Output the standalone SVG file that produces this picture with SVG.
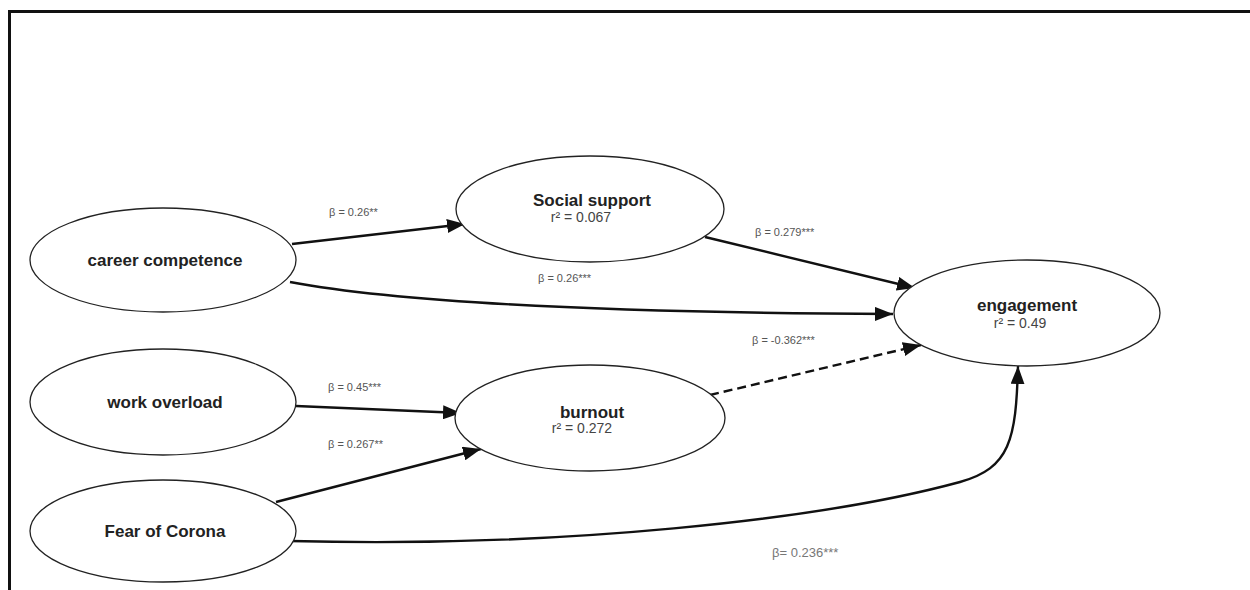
<svg xmlns="http://www.w3.org/2000/svg" width="1250" height="590" viewBox="0 0 1250 590">
<style>
.node ellipse{fill:#fff;stroke:#222;stroke-width:1.3}
.lbl{font-family:"Liberation Sans",Arial,sans-serif;font-weight:bold;font-size:17px;fill:#222;text-anchor:middle}
.r2{font-family:"Liberation Sans",Arial,sans-serif;font-size:14px;fill:#444;text-anchor:middle}
.conn path{fill:none;stroke:#111;stroke-width:2.4}
.el{font-family:"Liberation Sans",Arial,sans-serif;font-size:11px;fill:#555}
.el2{font-family:"Liberation Sans",Arial,sans-serif;font-size:13px;fill:#777}
</style>
<defs>
<marker id="ah" markerUnits="userSpaceOnUse" markerWidth="20" markerHeight="14" refX="18" refY="7" orient="auto">
<path d="M0,0 L18,7 L0,14 Z" fill="#111"/>
</marker>
</defs>
<rect width="1250" height="590" fill="#fff"/>
<path d="M9.5,590 L9.5,11.5 L1250,11.5" fill="none" stroke="#111" stroke-width="3"/>
<g class="conn">
<path d="M292,244 L465,224" marker-end="url(#ah)"/>
<path d="M290,282 Q450,312 893,314" marker-end="url(#ah)"/>
<path d="M705,237 L915,288" marker-end="url(#ah)"/>
<path d="M296,406 L461,413" stroke-width="3" marker-end="url(#ah)"/>
<path d="M276,502 L481,449" marker-end="url(#ah)"/>
<path d="M710,395 L921,345" stroke-dasharray="9,5" stroke-width="3" marker-end="url(#ah)"/>
<path d="M290,541 C560,548 820,520 960,482 C1010,468 1016,440 1018,366" marker-end="url(#ah)"/>
</g>
<g id="career-competence" class="node"><ellipse cx="163" cy="260" rx="133" ry="52"/><text class="lbl" x="165" y="266">career competence</text></g>
<g id="work-overload" class="node"><ellipse cx="163" cy="402" rx="133" ry="53"/><text class="lbl" x="165" y="408">work overload</text></g>
<g id="fear-of-corona" class="node"><ellipse cx="163" cy="531" rx="133" ry="51"/><text class="lbl" x="165" y="537">Fear of Corona</text></g>
<g id="social-support" class="node"><ellipse cx="590" cy="209" rx="134" ry="53"/><text class="lbl" x="592" y="206">Social support</text><text class="r2" x="581" y="222">r² = 0.067</text></g>
<g id="burnout" class="node"><ellipse cx="590" cy="418" rx="135" ry="53"/><text class="lbl" x="592" y="418">burnout</text><text class="r2" x="582" y="433">r² = 0.272</text></g>
<g id="engagement" class="node"><ellipse cx="1027" cy="313" rx="133" ry="53"/><text class="lbl" x="1027" y="311">engagement</text><text class="r2" x="1020" y="328">r² = 0.49</text></g>
<g id="edge-labels">
<text class="el" x="329" y="216">β = 0.26**</text>
<text class="el" x="538" y="282">β = 0.26***</text>
<text class="el" x="755" y="236">β = 0.279***</text>
<text class="el" x="752" y="344">β = -0.362***</text>
<text class="el" x="328" y="391">β = 0.45***</text>
<text class="el" x="328" y="448">β = 0.267**</text>
<text class="el2" x="772" y="557">β= 0.236***</text>
</g>
</svg>
